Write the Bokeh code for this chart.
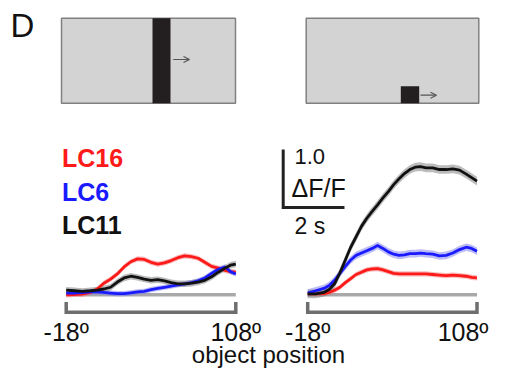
from bokeh.plotting import figure
from bokeh.models import Range1d, Arrow, OpenHead
from bokeh.embed import file_html
from bokeh.resources import INLINE
from bokeh.core.properties import value

# ---------------- data ----------------
POS1 = [-18, -12, -6, 0, 5, 10, 15, 20, 25, 30, 35, 40, 45, 50, 55, 60, 65, 70,
        75, 80, 85, 90, 95, 100, 104, 108]
BAR_LC16 = [0.0, 0.005, 0.01, 0.04, 0.10, 0.20, 0.27, 0.36, 0.48, 0.57, 0.62, 0.61,
            0.56, 0.53, 0.55, 0.59, 0.64, 0.67, 0.66, 0.63, 0.56, 0.49, 0.46, 0.42,
            0.40, 0.39]
BAR_LC6 = [0.03, 0.03, 0.04, 0.05, 0.05, 0.04, 0.03, 0.02, 0.02, 0.035, 0.05, 0.06,
           0.09, 0.11, 0.13, 0.15, 0.17, 0.19, 0.21, 0.24, 0.29, 0.37, 0.44, 0.48,
           0.40, 0.36]
BAR_LC11 = [0.08, 0.07, 0.06, 0.07, 0.08, 0.10, 0.13, 0.22, 0.29, 0.32, 0.30, 0.27,
            0.25, 0.26, 0.24, 0.21, 0.19, 0.19, 0.20, 0.22, 0.25, 0.31, 0.39, 0.46,
            0.51, 0.53]

POS2 = [-18, -12, -6, -2, 2, 6, 10, 14, 18, 22, 26, 30, 34, 38, 42, 46, 50, 54, 58,
        62, 66, 70, 75, 80, 85, 90, 95, 100, 104, 108]
SQ_LC11 = [0.017, 0.017, 0.04, 0.09, 0.19, 0.38, 0.60, 0.82, 1.00, 1.18, 1.32, 1.44,
           1.55, 1.67, 1.78, 1.90, 2.00, 2.09, 2.16, 2.20, 2.21, 2.19, 2.19, 2.16,
           2.16, 2.17, 2.15, 2.08, 2.02, 1.96]
SQ_LC6 = [0.03, 0.07, 0.11, 0.16, 0.25, 0.37, 0.49, 0.60, 0.68, 0.72, 0.76, 0.80,
          0.85, 0.80, 0.74, 0.70, 0.68, 0.69, 0.71, 0.71, 0.72, 0.71, 0.70, 0.67,
          0.68, 0.72, 0.78, 0.82, 0.80, 0.75]
SQ_LC16 = [0.017, 0.017, 0.02, 0.04, 0.08, 0.13, 0.21, 0.28, 0.35, 0.39, 0.43, 0.445,
           0.45, 0.43, 0.40, 0.37, 0.36, 0.36, 0.36, 0.36, 0.36, 0.36, 0.35, 0.34,
           0.33, 0.34, 0.33, 0.32, 0.30, 0.29]

SEM1 = {"LC16": 0.045, "LC6": 0.045, "LC11": 0.055}
SEM2 = {"LC16": 0.045, "LC6": 0.065, "LC11": 0.075}

X_TICKS = [-18, 108]
X_TICK_LABELS = ["-18º", "108º"]
SERIES = ["LC16", "LC6", "LC11"]
SCALE_Y = 1.0        # ΔF/F
SCALE_X_DEG = 45.6   # 2 s

# ---------------- layout ----------------
W, H = 489, 369
OX, OY = 0, 0
P1_L, P1_R = 65.7, 235.3
P2_L, P2_R = 307.2, 476.5
BASE_PX = 294.3
UNIT_PX = 58.0

COL = {"LC16": "#ff1a1a", "LC6": "#1a1aff", "LC11": "#111111"}
BAND = {"LC16": "#f07a7a", "LC6": "#7a7af0", "LC11": "#7a7a7a"}
FONT = value("Liberation Sans")


def mid(baseline, size):
    """vertical centre of a text line whose baseline is at `baseline`"""
    return baseline - 0.3465 * size


def xr(lpx, rpx):
    s = (rpx - lpx) / 126.0
    return Range1d(-18 + (OX - lpx) / s, -18 + (OX + W - lpx) / s)


def deg2(px):
    s = (P2_R - P2_L) / 126.0
    return -18 + (px - P2_L) / s


p = figure(width=W, height=H, output_backend="svg", toolbar_location=None,
           x_range=Range1d(OX, OX + W), y_range=Range1d(OY + H, OY),
           min_border=0, outline_line_color=None)
p.axis.visible = False
p.grid.visible = False
p.extra_x_ranges = {"p1": xr(P1_L, P1_R), "p2": xr(P2_L, P2_R)}
p.extra_y_ranges = {"v": Range1d((BASE_PX - (OY + H)) / UNIT_PX, (BASE_PX - OY) / UNIT_PX)}

# ---- stimulus icons (pixel coordinates) ----
p.quad(left=[61, 305.7], right=[235, 478.3], top=[17.7, 17.7], bottom=[102.7, 102.7],
       fill_color="#d3d3d3", line_color="#808080", line_width=1.5)
p.quad(left=[152, 400.3], right=[170, 418.7], top=[17.7, 85.7], bottom=[102.7, 102.7],
       fill_color="#231f20", line_color=None)
for xs, xe, yy in [(172.7, 189, 59), (420, 436, 94.7)]:
    p.add_layout(Arrow(end=OpenHead(size=6, line_width=1.2, line_color="#555555"),
                       x_start=xs, y_start=yy, x_end=xe, y_end=yy,
                       line_color="#555555", line_width=1.2))

p.text(x=[10], y=[mid(36.7, 33)], text=["D"], text_font=FONT, text_font_size="33px",
       text_baseline="middle", text_color="#111111")

# ---- panels ----
panels = [("p1", POS1, {"LC16": BAR_LC16, "LC6": BAR_LC6, "LC11": BAR_LC11}, SEM1),
          ("p2", POS2, {"LC16": SQ_LC16, "LC6": SQ_LC6, "LC11": SQ_LC11}, SEM2)]

for name, xs, data, sem in panels:
    p.line(x=[X_TICKS[0], X_TICKS[1]], y=[0, 0], x_range_name=name, y_range_name="v",
           line_color="#a9a9a9", line_width=3.5)
    for s in SERIES:
        v = data[s]
        p.varea(x=xs, y1=[a - sem[s] for a in v], y2=[a + sem[s] for a in v],
                x_range_name=name, y_range_name="v", fill_color=BAND[s], fill_alpha=0.5)
    for s in SERIES:
        p.line(x=xs, y=data[s], x_range_name=name, y_range_name="v",
               line_color=COL[s], line_width=2.8)
    p.line(x=[X_TICKS[0], X_TICKS[0], X_TICKS[1], X_TICKS[1]], y=[-0.125, -0.3, -0.3, -0.125],
           x_range_name=name, y_range_name="v", line_color="#6e6e6e", line_width=3.5,
           line_join="miter")

TY = mid(340, 25)
p.text(x=X_TICKS, y=[TY, TY], text=X_TICK_LABELS, x_range_name="p1",
       text_font=FONT, text_font_size="25px", text_align="center",
       text_baseline="middle", text_color="#111111")
p.text(x=X_TICKS[:1], y=[TY], text=X_TICK_LABELS[:1], x_range_name="p2",
       text_font=FONT, text_font_size="25px", text_align="center",
       text_baseline="middle", text_color="#111111")
# last label kept inside the page edge
p.text(x=[OX + W - 1], y=[TY], text=X_TICK_LABELS[1:],
       text_font=FONT, text_font_size="25px", text_align="right",
       text_baseline="middle", text_color="#111111")

# ---- legend labels ----
p.text(x=[61.5, 61.5, 61.5], y=[mid(166, 25), mid(200, 25), mid(232.7, 25)], text=SERIES,
       text_color=[COL[s] for s in SERIES], text_font=FONT, text_font_size="25px",
       text_font_style="bold", text_baseline="middle")

# ---- scale bar ----
sx0 = deg2(282.7)
sy0 = (BASE_PX - 207) / UNIT_PX
p.line(x=[sx0, sx0, sx0 + SCALE_X_DEG], y=[sy0 + SCALE_Y, sy0, sy0], x_range_name="p2",
       y_range_name="v", line_color="#222222", line_width=3, line_join="miter")
p.text(x=[294], y=[mid(164, 22)], text=["1.0"], text_font=FONT, text_font_size="22px",
       text_baseline="middle", text_color="#111111")
p.text(x=[291], y=[mid(196, 25)], text=["ΔF/F"], text_font=FONT, text_font_size="25px",
       text_baseline="middle", text_color="#111111")
p.text(x=[294], y=[mid(233.3, 23)], text=["2 s"], text_font=FONT, text_font_size="23px",
       text_baseline="middle", text_color="#111111")

p.text(x=[268], y=[mid(362, 24)], text=["object position"], text_font=FONT,
       text_font_size="24px", text_align="center", text_baseline="middle",
       text_color="#111111")

open("out.html", "w").write(file_html(p, INLINE))
